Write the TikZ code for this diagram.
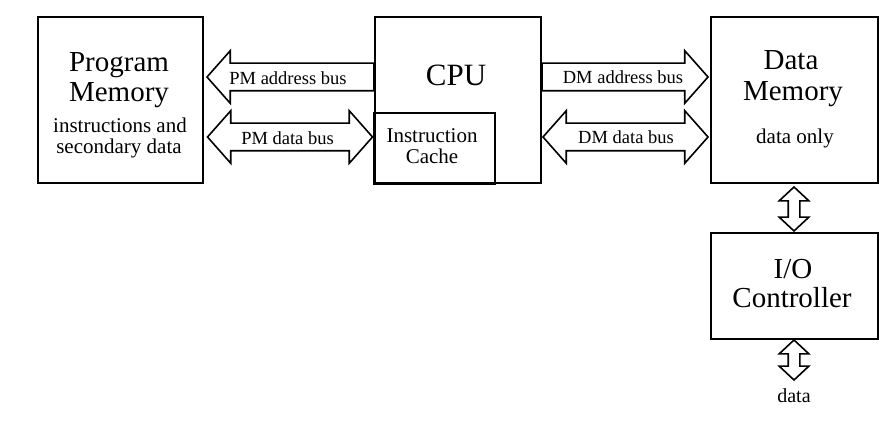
\documentclass[tikz,border=0pt]{standalone}
\usepackage{fontspec}
\setmainfont{Liberation Serif}
\usetikzlibrary{shapes.arrows}
\begin{document}
\begin{tikzpicture}[x=1pt,y=-1pt,
  box/.style={draw,line width=2.3pt,fill=white,inner sep=0pt,outer sep=0pt},
  cachebox/.style={draw,line width=2pt,inner sep=0pt,outer sep=0pt},
  title/.style={anchor=base,inner sep=0pt,font=\fontsize{29}{30}\selectfont},
  body/.style={anchor=base,inner sep=0pt,font=\fontsize{21}{22}\selectfont},
  buslabel/.style={anchor=base,inner sep=0pt,font=\fontsize{18.5}{20}\selectfont},
  hbus/.style={draw,line width=1.6pt,fill=white,inner xsep=0pt,inner ysep=13pt,outer sep=0pt},
  sbus/.style={hbus,single arrow,single arrow head extend=12.5pt,single arrow tip angle=97},
  dbus/.style={hbus,double arrow,double arrow head extend=12.5pt,double arrow tip angle=97},
  vbus/.style={draw,line width=1.6pt,fill=white,double arrow,inner xsep=0pt,inner ysep=5pt,outer sep=0pt,
    double arrow head extend=9pt,double arrow tip angle=94,rotate=90},
]
\useasboundingbox (0,0) rectangle (890,427);
\fill[white] (0,0) rectangle (890,427);

% boxes
\node[box,minimum width=165pt,minimum height=166pt] (pm) at (120.5,100) {};
\node[box,minimum width=166pt,minimum height=166pt] (cpu) at (458,100) {};
\node[cachebox,minimum width=121pt,minimum height=71pt] (cache) at (434.5,148.5) {};
\node[box,minimum width=167pt,minimum height=166pt] (dm) at (794.5,100) {};
\node[box,minimum width=167pt,minimum height=106pt] (io) at (794.5,286) {};

% texts
\node[title] (pm1) at (119,72) {Program};
\node[title] (pm2) at (119,102) {Memory};
\node[body] (pm3) at (120,133) {instructions and};
\node[body] (pm4) at (119,154) {secondary data};
\node[title,font=\fontsize{31}{32}\selectfont] (cpu1) at (456,86) {CPU};
\node[body] (ca1) at (432,143) {Instruction};
\node[body] (ca2) at (432,164) {Cache};
\node[title] (dm1) at (791,70) {Data};
\node[title] (dm2) at (793,101) {Memory};
\node[body] (dm3) at (795,144) {data only};
\node[title] (io1) at (793,278) {I/O};
\node[title] (io2) at (792,307) {Controller};

% buses
\node[sbus,rotate=180,minimum height=167pt,anchor=tip] (pmab) at (207,77) {};
\node[dbus,minimum height=165pt] (pmdb) at (290,137) {};
\node[sbus,minimum height=166pt,anchor=tip] (dmab) at (708,77) {};
\node[dbus,minimum height=165pt] (dmdb) at (625.5,137) {};
\node[buslabel] (l1) at (288,84.5) {PM address bus};
\node[buslabel] (l2) at (287.5,145) {PM data bus};
\node[buslabel] (l3) at (623,84) {DM address bus};
\node[buslabel] (l4) at (626,144) {DM data bus};

% vertical buses
\node[vbus,minimum height=44pt] (v1) at (794,209) {};
\node[vbus,minimum height=40pt] (v2) at (794,360) {};
\node[body,font=\fontsize{20}{21}\selectfont] (dat) at (794,402) {data};
\end{tikzpicture}
\end{document}
